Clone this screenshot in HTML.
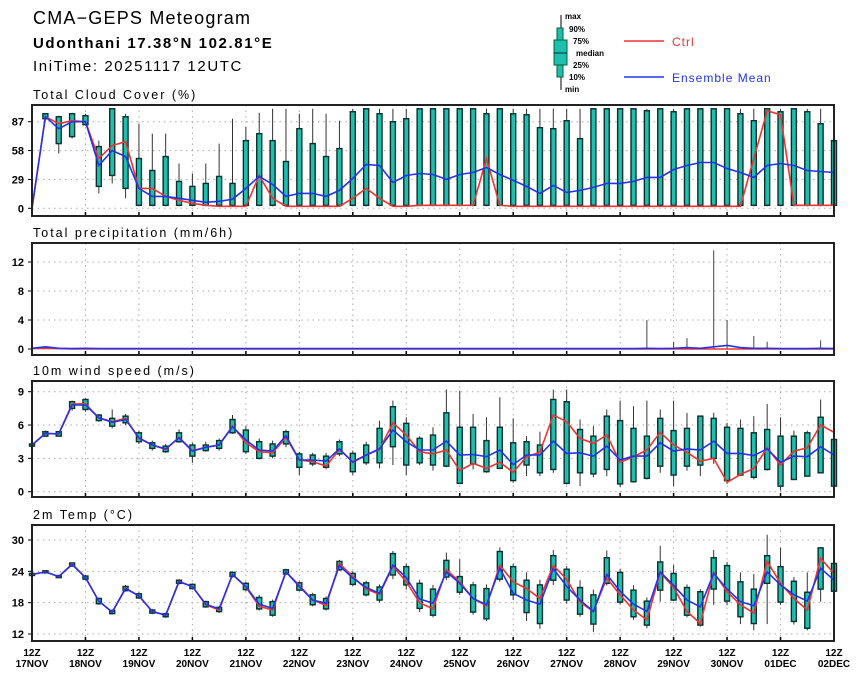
<!DOCTYPE html>
<html><head><meta charset="utf-8"><style>
body{margin:0;background:#fff;}
svg{display:block;font-family:"Liberation Sans",sans-serif;}
</style></head><body>
<svg id="c" width="860" height="679" viewBox="0 0 860 679">
<text x="33" y="24" font-size="18" letter-spacing="1.2">CMA−GEPS Meteogram</text>
<text x="33" y="48" font-size="15" letter-spacing="1.6" font-weight="bold">Udonthani 17.38°N 102.81°E</text>
<text x="33" y="71" font-size="15" letter-spacing="1.6">IniTime: 20251117 12UTC</text>
<g>
<line x1="561" y1="15" x2="561" y2="90" stroke="#000" stroke-width="1"/>
<rect x="557" y="28" width="6" height="49" fill="#1fbfb0" stroke="#063" stroke-width="1"/>
<rect x="554" y="40" width="13" height="25" fill="#1fbfb0" stroke="#063" stroke-width="1"/>
<line x1="554" y1="53" x2="567" y2="53" stroke="#033"/>
<g font-size="8" font-weight="bold">
<text x="565" y="19">max</text><text x="569" y="32">90%</text><text x="573" y="44">75%</text><text x="576" y="56">median</text><text x="573" y="68">25%</text><text x="569" y="80">10%</text><text x="565" y="92">min</text></g>
</g>
<g><line x1="624" y1="41" x2="664" y2="41" stroke="#e33" stroke-width="1.5"/><text x="672" y="46" font-size="12" letter-spacing="1" fill="#e33">Ctrl</text></g>
<g><line x1="624" y1="77" x2="664" y2="77" stroke="#2233ee" stroke-width="1.5"/><text x="672" y="82" font-size="12" letter-spacing="1" fill="#2233ee">Ensemble Mean</text></g>
</svg>
<script>
const days=["17NOV","18NOV","19NOV","20NOV","21NOV","22NOV","23NOV","24NOV","25NOV","26NOV","27NOV","28NOV","29NOV","30NOV","01DEC","02DEC"];
// Cloud cover
const ccMean=[0,92,80,87,87,43,58,52,20,12,12,10,8,6,7,9,20,32,24,12,15,15,12,18,30,44,43,26,33,35,34,29,34,36,41,34,28,22,15,23,16,18,21,25,25,27,31,31,39,43,46,46,40,36,31,43,45,43,38,37,36];
const ccCtrl=[0,92,85,88,87,50,63,67,20,20,12,8,5,3,2,2,2,33,10,2,2,2,2,2,10,20,10,2,2,3,3,3,3,3,50,3,2,2,2,2,2,2,2,2,2,2,2,2,2,2,2,2,2,2,50,98,94,3,3,3,3];
const ccQ10=[0,90,65,72,84,22,33,20,3,3,3,3,3,3,3,3,3,3,3,3,3,3,3,3,3,3,3,3,3,3,3,3,3,3,3,3,3,3,3,3,3,3,3,3,3,3,3,3,3,3,3,3,3,3,3,3,3,3,3,3,3];
const ccQ90=[0,95,92,95,93,62,100,92,50,38,52,27,22,25,32,25,68,75,68,47,80,65,52,60,97,100,95,87,90,100,100,100,100,100,95,100,95,94,81,80,88,70,100,100,100,100,98,100,97,100,100,100,100,95,88,100,97,100,97,85,68];
const ccMin=[0,88,55,70,83,15,25,10,2,2,2,2,2,2,2,2,2,2,2,2,2,2,2,2,2,2,2,2,2,2,2,2,2,2,2,2,2,2,2,2,2,2,2,2,2,2,2,2,2,2,2,2,2,2,2,2,2,2,2,2,2];
const ccMax=[0,95,93,96,95,68,100,95,85,75,75,45,35,45,65,90,82,96,100,100,95,100,95,88,100,100,100,100,100,100,100,100,100,100,100,100,100,100,100,100,100,100,100,100,100,100,100,100,100,100,100,100,100,100,100,100,100,100,100,100,100];
// Precipitation
const prMean=[0.1,0.3,0.1,0.05,0.1,0.05,0.05,0.05,0.05,0.05,0.05,0.05,0.05,0.05,0.05,0.05,0.05,0.05,0.05,0.05,0.05,0.05,0.05,0.05,0.05,0.05,0.05,0.05,0.05,0.05,0.05,0.05,0.05,0.05,0.05,0.05,0.05,0.05,0.05,0.05,0.05,0.05,0.05,0.05,0.05,0.05,0.1,0.05,0.1,0.2,0.1,0.3,0.5,0.2,0.1,0.1,0.05,0.05,0.05,0.1,0.05];
const prCtrl=[0.05,0.1,0.05,0,0,0,0,0,0,0,0,0,0,0,0,0,0,0,0,0,0,0,0,0,0,0,0,0,0,0,0,0,0,0,0,0,0,0,0,0,0,0,0,0,0,0,0,0,0,0,0,0,0,0,0,0,0,0,0,0,0];
const prMax=[0,0.4,0,0,0,0,0,0,0,0,0,0,0,0,0,0,0,0,0,0,0,0,0,0,0,0,0,0,0,0,0,0,0,0,0,0,0,0,0,0,0,0,0,0,0,0,4,0,1,1.5,0,13.6,4,0,1.8,1,0,0,0,1.2,0];
// Wind speed
const wsMean=[4.2,5.25,5.2,7.8,7.8,6.65,6.25,6.5,4.85,4.2,3.85,4.85,3.65,4.0,4.2,5.85,4.65,3.75,3.65,5.05,2.85,2.85,2.75,3.85,2.65,3.3,3.85,5.55,4.5,3.75,3.75,4.55,3.3,3.35,3.15,3.75,2.45,3.3,3.3,4.55,3.45,3.5,3.2,4.1,2.85,3.2,3.2,4.4,3.65,3.85,3.75,4.55,3.45,3.45,3.25,3.85,2.65,3.2,3.15,4.05,3.3];
const wsCtrl=[4.2,5.25,5.2,7.9,7.9,6.65,6.3,6.6,4.8,4.2,3.8,4.9,3.7,4.0,4.2,5.9,4.4,3.6,3.5,4.9,2.85,2.7,2.3,3.8,2.7,3.3,3.8,6.2,5.1,3.6,3.4,3.75,1.9,2.55,2.1,2.65,1.75,3.15,3.55,6.9,6.3,4.8,4.35,5.1,2.65,3.15,3.75,5.35,4.2,3.55,2.75,3.0,0.85,1.55,2.1,3.95,2.4,3.65,3.95,6.0,5.35];
const wsQ10=[4.1,5.0,5.0,7.5,7.4,6.4,5.9,6.2,4.5,3.9,3.6,4.5,3.2,3.7,3.9,5.3,3.6,3.0,3.2,4.3,2.2,2.5,2.2,3.4,1.8,2.6,2.6,4.05,2.4,2.6,2.4,2.3,0.75,2.5,1.8,2.1,1.0,2.4,1.7,2.0,0.75,1.7,1.6,2.0,0.7,0.9,1.2,2.3,1.5,2.3,2.4,3.0,1.0,1.5,1.3,2.0,0.5,1.1,1.4,1.7,0.5];
const wsQ90=[4.3,5.4,5.4,8.1,8.3,6.9,6.6,6.8,5.3,4.4,4.1,5.3,4.2,4.2,4.6,6.5,5.55,4.5,4.3,5.4,3.4,3.3,3.2,4.5,3.45,4.2,5.7,7.65,6.15,4.8,5.1,7.1,5.8,5.8,4.6,5.8,4.4,4.5,4.2,8.3,8.1,5.6,5.0,6.8,6.4,5.7,5.0,6.6,5.5,5.7,6.8,6.6,5.8,5.7,5.3,5.6,5.0,5.0,5.3,6.7,4.7];
const wsMin=[4.1,5.0,5.0,7.3,7.2,6.3,5.7,6.0,4.3,3.7,3.5,4.4,2.6,3.6,3.7,5.2,3.4,2.9,3.0,4.0,1.5,2.3,2.0,3.2,1.5,2.4,2.1,2.4,1.5,2.4,1.9,2.2,0.75,2.0,1.7,2.1,0.8,1.4,1.4,1.7,0.65,0.5,1.3,1.4,0.4,0.8,1.1,1.7,0.5,1.9,1.4,2.5,0.7,1.4,1.1,1.9,0.1,1.1,1.4,1.7,0.5];
const wsMax=[4.3,5.5,5.4,8.2,8.4,7.0,7.4,7.0,5.5,4.6,4.3,5.6,4.4,4.5,4.8,6.9,5.9,4.8,4.6,5.6,3.6,3.5,3.5,4.7,3.7,4.5,6.4,8.2,6.7,5.0,5.8,9.2,9.1,7.0,6.7,8.5,6.6,5.0,5.4,9.2,9.2,6.5,5.9,7.4,8.2,7.7,8.2,7.4,8.2,7.1,6.8,7.1,6.2,6.5,6.8,7.9,6.7,5.5,5.5,8.3,6.5];
// Temperature
const tMean=[23.4,23.9,23.0,25.3,22.8,18.3,16.2,20.7,19.3,16.3,15.6,22.0,21.1,17.7,16.8,23.4,21.1,17.7,16.9,23.9,21.1,18.5,17.9,25.1,22.7,20.9,19.8,25.2,22.8,18.7,17.9,23.9,21.7,18.8,17.6,24.6,19.8,18.5,17.7,24.5,21.1,18.5,16.3,23.4,20.2,17.7,16.3,23.9,21.3,18.5,17.2,23.6,20.6,18.2,17.4,23.9,21.4,19.5,18.3,24.6,22.3];
const tCtrl=[23.4,23.9,23.0,25.4,22.8,18.3,16.2,20.8,19.3,16.3,15.6,22.1,21.1,17.6,16.6,23.4,21.0,17.3,16.6,23.9,21.3,18.5,17.5,25.5,23.0,20.6,19.6,25.0,22.0,18.0,16.8,24.3,22.0,18.8,17.4,25.2,22.0,20.7,18.8,25.1,22.5,18.1,16.3,22.7,19.5,16.6,14.7,23.8,20.9,16.3,14.0,23.8,20.1,17.6,16.0,25.9,21.7,18.8,16.6,26.5,23.6];
const tQ10=[23.2,23.7,22.8,25.0,22.5,17.8,15.9,20.3,18.9,16.0,15.3,21.7,20.7,17.2,16.3,23.0,20.5,16.8,15.6,23.5,20.4,17.6,16.8,24.3,21.5,19.5,18.5,23.3,21.4,16.9,15.6,22.9,20.0,16.2,14.9,22.5,19.5,16.1,14.0,22.3,18.5,15.8,13.9,21.7,18.1,15.3,13.7,20.4,18.5,15.6,13.7,20.6,18.3,15.3,14.0,21.7,18.1,14.4,13.1,20.6,20.2];
const tQ90=[23.6,24.1,23.2,25.6,23.1,18.8,16.5,21.1,19.7,16.6,15.9,22.3,21.5,18.2,17.1,23.8,21.7,19.0,18.2,24.3,21.8,19.5,18.8,25.9,23.6,21.8,21.0,27.4,24.9,21.7,20.6,26.1,23.0,21.4,20.7,27.8,24.9,22.3,21.4,27.0,24.4,20.9,19.5,26.6,23.8,20.4,18.3,25.8,23.6,20.9,20.1,26.6,25.1,22.0,20.6,27.0,24.9,22.1,20.0,28.5,25.5];
const tMin=[23.1,23.6,22.7,24.9,22.3,17.6,15.7,20.1,18.7,15.8,15.1,21.5,20.5,17.0,16.0,22.8,20.2,16.5,15.3,23.3,20.2,17.3,16.5,24.1,21.2,19.2,18.0,22.5,20.5,16.2,15.2,22.3,19.5,15.7,14.5,22.0,18.5,14.5,13.0,21.4,17.8,15.3,12.4,21.3,17.6,14.7,13.1,18.2,18.3,15.2,13.4,17.6,17.5,13.9,12.7,13.9,17.6,13.8,12.7,18.2,19.0];
const tMax=[23.7,24.2,23.3,25.7,23.3,19.0,16.7,21.4,20.0,16.8,16.1,22.5,21.7,18.4,17.4,24.0,22.0,19.5,18.6,24.5,22.1,19.9,19.2,26.2,24.0,22.2,21.5,27.9,25.5,22.4,21.4,27.6,26.3,22.0,21.5,28.6,25.5,23.8,22.4,28.1,25.0,22.3,20.5,28.0,24.5,21.3,19.0,28.9,25.2,21.5,20.6,28.1,25.8,23.8,23.5,31.0,28.5,22.9,23.8,28.6,26.0];

const NS="http://www.w3.org/2000/svg";
const svg=document.getElementById('c');
function el(tag,attrs,parent){const e=document.createElementNS(NS,tag);for(const k in attrs)e.setAttribute(k,attrs[k]);(parent||svg).appendChild(e);return e;}
const X0=32,X1=834,N=60;
function xs(i){return X0+(X1-X0)*i/N;}

function panel(name,title,top,bot,vmin,vmax,y0,y1,ticks,showX){
  const g=el('g',{});
  
  
  const ys=v=>y0+(v-vmin)/(vmax-vmin)*(y1-y0);
  const t=el('text',{x:X0+1,y:top-6,'font-size':12.5,'letter-spacing':2},g);t.textContent=title;
  
  
  for(let d=0;d<=15;d++){const x=xs(d*4);
    el('line',{x1:x,y1:top,x2:x,y2:bot,stroke:'#aaa','stroke-dasharray':'1.5,4','stroke-width':1},g);
    el('line',{x1:x,y1:bot,x2:x,y2:bot-4,stroke:'#000','stroke-width':1.5},g);}
  ticks.forEach(v=>{const y=ys(v);
    el('line',{x1:X0,y1:y,x2:X1,y2:y,stroke:'#aaa','stroke-dasharray':'1.5,4','stroke-width':1},g);
    el('line',{x1:X0-4,y1:y,x2:X0,y2:y,stroke:'#000'},g);
    const tt=el('text',{x:X0-8,y:y+4,'font-size':11,'font-weight':'bold','text-anchor':'end'},g);tt.textContent=v;
    
    });
  if(showX){for(let d=0;d<=15;d++){const x=xs(d*4);
    const a=el('text',{x:x,y:656,'font-size':10,'font-weight':'bold','text-anchor':'middle'},g);a.textContent='12Z';
    
    
    const b=el('text',{x:x,y:667,'font-size':10,'font-weight':'bold','text-anchor':'middle'},g);b.textContent=days[d];
    
    }}
  return {g,ys,top,bot};
}
function boxes(p,q10,q90,mn,mx,w){
  for(let i=0;i<=N;i++){const x=xs(i);
    if(mx[i]-mn[i]<0.001)continue;
    const wl=el('line',{x1:x,y1:p.ys(mx[i]),x2:x,y2:p.ys(mn[i]),stroke:'#333','stroke-width':1},p.g);
    
    
    const y1=p.ys(q90[i]),y2=p.ys(q10[i]);
    const r=el('rect',{x:x-w/2,y:Math.min(y1,y2),width:w,height:Math.max(1.5,Math.abs(y2-y1)),fill:'#1fbfb0',stroke:'#08302c','stroke-width':1.4},p.g);
    
    }
}
function line(p,vals,color,name){
  const d=vals.map((v,i)=>(i?'L':'M')+xs(i).toFixed(1)+','+p.ys(v).toFixed(1)).join('');
  const l=el('path',{d:d,fill:'none',stroke:color,'stroke-width':1.6},p.g);
  
  
}
function frame(p){el('rect',{x:X0,y:p.top,width:X1-X0,height:p.bot-p.top,fill:'none',stroke:'#222','stroke-width':2},p.g);}

const p1=panel('cloud-cover-panel','Total Cloud Cover (%)',105,216,0,87,208.3,121.7,[0,29,58,87],false);
boxes(p1,ccQ10,ccQ90,ccMin,ccMax,5);line(p1,ccCtrl,'#e33','ctrl-line');line(p1,ccMean,'#2233ee','ensemble-mean-line');frame(p1);
const p2=panel('precip-panel','Total precipitation (mm/6h)',243,355,0,12,349,262,[0,4,8,12],false);
for(let i=0;i<=N;i++){if(prMax[i]>0){const l=el('line',{x1:xs(i),y1:p2.ys(prMax[i]),x2:xs(i),y2:p2.ys(0),stroke:'#444','stroke-width':1},p2.g);
  
  }}
line(p2,prCtrl,'#e33','ctrl-line');line(p2,prMean,'#2233ee','ensemble-mean-line');frame(p2);
const p3=panel('wind-speed-panel','10m wind speed (m/s)',381,497,0,9,491.7,391.7,[0,3,6,9],false);
boxes(p3,wsQ10,wsQ90,wsMin,wsMax,5);line(p3,wsCtrl,'#e33','ctrl-line');line(p3,wsMean,'#2233ee','ensemble-mean-line');frame(p3);
const p4=panel('temperature-panel','2m Temp (°C)',525,641,12,30,634,540,[12,18,24,30],true);
boxes(p4,tQ10,tQ90,tMin,tMax,5);line(p4,tCtrl,'#e33','ctrl-line');line(p4,tMean,'#2233ee','ensemble-mean-line');frame(p4);
</script>
</body></html>
